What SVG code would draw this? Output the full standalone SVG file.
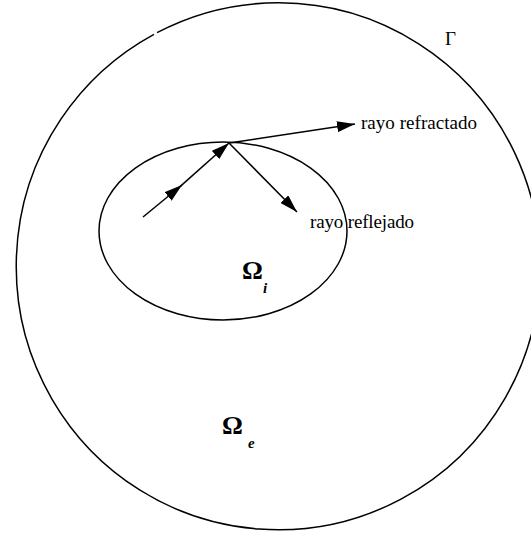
<svg xmlns="http://www.w3.org/2000/svg" width="531" height="536" viewBox="0 0 531 536">
<style>
.ln{fill:none;stroke:#000;stroke-width:1.5}
.lbl{font-family:"Liberation Serif",serif;font-size:19px;fill:#000}
.om{font-family:"Liberation Serif",serif;font-size:26px;font-weight:bold;fill:#000}
.sub{font-family:"Liberation Serif",serif;font-size:15px;font-weight:bold;font-style:italic;fill:#000}
</style>
<defs>
<marker id="ah" markerUnits="userSpaceOnUse" markerWidth="18" markerHeight="11" refX="18" refY="5.5" orient="auto">
<path d="M0,0 L18,5.5 L0,11 z" fill="#000"/>
</marker>
</defs>
<g id="outer">
<path class="ln" d="M157,32.7 A262 263.5 0 1 1 154,34.3"/>
</g>
<g id="inner">
<ellipse class="ln" cx="223" cy="231" rx="124" ry="89"/>
</g>
<g id="connectors">
<line class="ln" x1="143" y1="217" x2="182" y2="185" marker-end="url(#ah)"/>
<line class="ln" x1="180" y1="186.6" x2="229" y2="143" marker-end="url(#ah)"/>
<line class="ln" x1="229" y1="143" x2="297" y2="212" marker-end="url(#ah)"/>
<line class="ln" x1="229" y1="143" x2="355" y2="124" marker-end="url(#ah)"/>
</g>
<g id="labels">
<text class="lbl" x="361" y="129" textLength="116">rayo refractado</text>
<text class="lbl" x="310" y="228" textLength="104">rayo reflejado</text>
<text class="lbl" x="445" y="45" style="font-size:19px">Γ</text>
</g>
<g id="omega-i">
<text class="om" x="242" y="279">Ω</text>
<text class="sub" x="263" y="293">i</text>
</g>
<g id="omega-e">
<text class="om" x="222" y="434">Ω</text>
<text class="sub" x="248" y="448">e</text>
</g>
</svg>
